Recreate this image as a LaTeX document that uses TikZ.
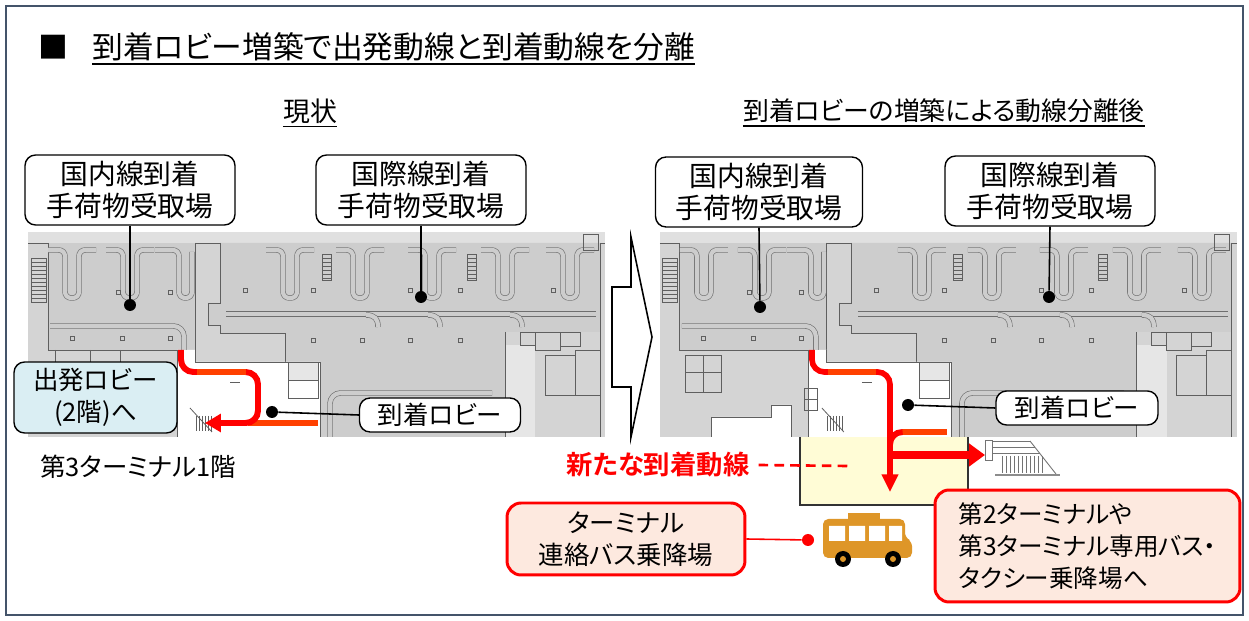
\documentclass[tikz,border=0pt]{standalone}
\usepackage{fontspec}
\setmainfont{Noto Sans CJK JP}[RawFeature=+palt,BoldFont={Noto Sans CJK JP Bold}]
\usetikzlibrary{arrows.meta}
\definecolor{framec}{RGB}{68,84,106}
\definecolor{plbase}{RGB}{212,212,212}
\definecolor{plhall}{RGB}{205,205,205}
\definecolor{plband}{RGB}{224,224,224}
\definecolor{pllight}{RGB}{230,230,230}
\definecolor{plline}{RGB}{95,95,95}
\definecolor{convline}{RGB}{110,110,110}
\definecolor{deplbl}{RGB}{218,238,243}
\definecolor{pinkfill}{RGB}{253,233,223}
\definecolor{orred}{RGB}{255,64,0}
\definecolor{yelfill}{RGB}{255,252,214}
\definecolor{buscol}{RGB}{222,150,40}
\tikzset{
  plwall/.style={draw=plline, line width=0.45pt},
  conv/.style={draw=convline, line width=0.35pt, double=plhall, double distance=2.4pt},
  lbl/.style={draw=black, line width=0.8pt, rounded corners=6pt, fill=white, align=center, inner sep=0pt, font=\fontsize{15.8}{18.6}\selectfont},
  redbox/.style={draw=red, line width=1.7pt, rounded corners=8pt, fill=pinkfill, inner sep=0pt, font=\fontsize{14.5}{18.2}\selectfont},
  leader/.style={draw=black, line width=0.9pt},
  dot/.style={circle, fill=black, inner sep=0pt, minimum size=0.24cm},
  reddot/.style={circle, fill=red, inner sep=0pt, minimum size=0.24cm},
  redline/.style={draw=red, line width=3.4pt},
  escl/.style={draw=black!55, line width=0.5pt},
}
\newcommand\ploop[2]{%
  \draw[conv,rounded corners=3.5pt] (#1-24,250) -- (#1-7,250) -- (#1-7,#2) -- (#1+7,#2) -- (#1+7,250) -- (#1+24,250);}
\newcommand\planBase{%
  \fill[plbase] (28,232) rectangle (605,437);
  \fill[plband] (28,232) rectangle (605,243);
  \draw[plwall] (28,243) -- (605,243);
  % domestic hall
  \fill[plhall] (48,243) rectangle (195,350);
  \draw[plwall] (48,243) -- (48,350) -- (177,350);
  \draw[plwall] (195,243) -- (195,350);
  % international hall
  \fill[plhall] (220,243) -- (600,243) -- (600,332) -- (505,332) -- (505,437) -- (320,437) -- (320,362) -- (285,362) -- (285,333) -- (220,333) -- (220,325) -- (208,325) -- (208,303) -- (220,303) -- cycle;
  \draw[plwall] (220,243) -- (220,303) -- (208,303) -- (208,325) -- (220,325) -- (220,333) -- (285,333) -- (285,362);
  \draw[plwall] (600,243) -- (600,437);
  % lobby
  \fill[white] (177,350) -- (195,350) -- (195,362) -- (320,362) -- (320,437) -- (177,437) -- cycle;
  \draw[plwall] (195,350) -- (195,362) -- (320,362) -- (320,437);
  \draw[plwall] (177,350) -- (177,437);
  \draw[plwall, fill=pllight] (288,362) rectangle (318,380);
  \draw[plwall, fill=white] (288,380) rectangle (318,398);
  \draw[plwall] (230,382) -- (240,382);
  \draw[plwall] (190,408) -- (212,432);
  \foreach \i in {0,...,5} {\draw[plwall] (196+3*\i,416) -- (196+3*\i,431);}
  % right rooms
  \fill[pllight] (505,345) rectangle (535,437);
  \draw[plwall] (505,332) -- (505,437);
  \draw[plwall] (535,332) rectangle (560,350) (560,332) rectangle (580,346) (545,355) rectangle (575,395) (575,350) rectangle (600,395) (520,332) rectangle (535,345);
  % left strip escalator
  \draw[plwall] (31,258) rectangle (46,302);
  \foreach \i in {0,...,9} {\draw[plwall] (31,262+4*\i) -- (46,262+4*\i);}
  % conveyors domestic
  \ploop{72}{298}
  \ploop{130}{298}
  \draw[conv, rounded corners=3.5pt] (155,250) -- (179,250) -- (179,298) -- (192,298) -- (192,252);
  \draw[conv, rounded corners=6pt] (50,326) -- (184,326) -- (184,350);
  % conveyors international
  \foreach \x in {290,360,432,505,570} {\ploop{\x}{298}}
  \draw[conv] (226,314) -- (596,314);
  \foreach \x in {378,440,522} {\draw[conv] (\x-12,315) .. controls (\x-3,315) and (\x,319) .. (\x,327);}
  \foreach \x in {322,467} {\draw[plwall] (\x,254) rectangle (\x+9,280);
    \foreach \j in {0,...,5} {\draw[plwall] (\x,258+4*\j) -- (\x+9,258+4*\j);}}
  \draw[conv, rounded corners=6pt] (330,437) -- (330,393) -- (492,393);
  % columns
  \foreach \p in {(118,292),(170,292),(72,338),(122,338),(170,338),(245,290),(313,290),(410,290),(460,290),(553,290),(313,340),(362,340),(410,340),(460,340)} {\draw[plwall] \p ++(-2,-2) rectangle ++(4,4);}
  \draw[plwall] (583,234) rectangle (598,250);
}
\begin{document}
\begin{tikzpicture}[x=0.02cm,y=-0.02cm]
\useasboundingbox (0,0) rectangle (1249,621);
\fill[white] (0,0) rectangle (1249,621);
\draw[framec, line width=0.9pt] (6,6) rectangle (1243,615);

% titles
\node[inner sep=0pt, font=\fontsize{17}{20}\selectfont] (sq) at (53,47) {■};
\node[anchor=west, inner sep=0pt, font=\fontsize{17.5}{20}\selectfont] (title) at (92,47) {到着ロビー増築で出発動線と到着動線を分離};
\draw[line width=0.9pt] ([yshift=-1.5pt]title.south west) -- ([yshift=-1.5pt]title.south east);
\node[inner sep=0pt, font=\fontsize{15.3}{18}\selectfont] (cur) at (310,111) {現状};
\draw[line width=0.8pt] ([yshift=-1.5pt]cur.south west) -- ([yshift=-1.5pt]cur.south east);
\node[inner sep=0pt, font=\fontsize{14.7}{18}\selectfont] (aft) at (944,111) {到着ロビーの増築による動線分離後};
\draw[line width=0.8pt] ([yshift=-1.5pt]aft.south west) -- ([yshift=-1.5pt]aft.south east);

% plans
\planBase
\draw[plwall] (55,350) -- (55,362) (90,350) -- (90,362) (120,350) -- (120,362);
\begin{scope}[xshift=12.64cm]
  \planBase
  \draw[plwall] (54,355) rectangle (90,392) (54,372) -- (90,372) (72,355) -- (72,392);
  \draw[plwall, fill=white] (80,437) -- (80,417) -- (140,417) -- (140,405) -- (160,405) -- (160,437);
  \draw[plwall] (173,388) rectangle (186,399) (173,399) rectangle (186,410);
\end{scope}

% block arrow
\draw[line width=0.9pt, fill=white] (612,287) -- (631,287) -- (631,237) -- (652,337) -- (631,437) -- (631,387) -- (612,387) -- cycle;

% yellow extension
\fill[yelfill] (800,437) rectangle (968,505);
\draw[line width=0.6pt, black!80] (800,437) -- (800,505) -- (968,505) -- (968,437);

% escalator icon
\draw[escl] (985,440) rectangle (992,460);
\draw[escl] (992,441) -- (1030,441) (992,447) -- (1035,447) (992,453) -- (1040,453);
\draw[escl] (1030,441) -- (1056,474);
\foreach \i in {0,...,10} {\draw[escl] (1002+4*\i,456) -- (1002+4*\i,473);}
\draw[black!45, line width=1.3pt] (995,475) -- (1060,475);

% red routes left
\coordinate (lA) at (181,350);
\coordinate (lB) at (181,372);
\coordinate (lC) at (258,372);
\coordinate (lD) at (258,423);
\coordinate (lE) at (205,423);
\coordinate (lF) at (248,423);
\coordinate (lG) at (318,423);
\draw[orred, line width=3.4pt] (lF) -- (lG);
\draw[redline, rounded corners=7pt, -{Triangle[length=9pt,width=10pt]}] (lA) -- (lB) -- (lC) -- (lD) -- (lE);
\draw[orred, line width=3.4pt] (197,372) -- (246,372);

% red routes right
\coordinate (rA) at (812,350);
\coordinate (rB) at (812,372);
\coordinate (rC) at (890,372);
\coordinate (rD) at (890,492);
\coordinate (rF) at (902,432);
\coordinate (rG) at (947,432);
\coordinate (rH) at (890,450);
\coordinate (rK) at (890,455);
\coordinate (rL) at (985,455);
\draw[orred, line width=3.4pt] (rF) -- (rG);
\draw[redline, rounded corners=7pt] (rH) -- (890,432) -- (rF);
\draw[redline, line width=3.2pt, rounded corners=7pt, -{Triangle[length=10pt,width=9pt]}] (rA) -- (rB) -- (rC) -- (rD);
\draw[orred, line width=3.2pt] (828,372) -- (876,372);
\draw[redline, line width=4pt, -{Triangle[length=9pt,width=12.5pt]}] (rK) -- (rL);

% labels left
\node[lbl, minimum width=4.2cm, minimum height=1.4cm] (bdomL) at (130,190) {国内線到着\\手荷物受取場};
\node[lbl, minimum width=4.2cm, minimum height=1.4cm] (bintL) at (421,190) {国際線到着\\手荷物受取場};
\node[dot] (ddomL) at (130,305) {};
\node[dot] (dintL) at (421,297) {};
\draw[leader] (bdomL.south) -- (ddomL);
\draw[leader] (bintL.south) -- (dintL);
\node[lbl, fill=deplbl, minimum width=3.26cm, minimum height=1.42cm, font=\fontsize{14.5}{18}\selectfont] (bdep) at (95.5,397.5) {出発ロビー\\(2階)へ};
\node[lbl, minimum width=3.22cm, minimum height=0.68cm, font=\fontsize{14.5}{17}\selectfont] (barrL) at (440,415) {到着ロビー};
\node[dot] (darrL) at (272,412) {};
\draw[leader] (darrL) -- (barrL.west);

% labels right
\node[lbl, minimum width=4.14cm, minimum height=1.4cm] (bdomR) at (759,192) {国内線到着\\手荷物受取場};
\node[lbl, minimum width=4.2cm, minimum height=1.4cm] (bintR) at (1050,191) {国際線到着\\手荷物受取場};
\node[dot] (ddomR) at (760,307) {};
\node[dot] (dintR) at (1049,297) {};
\draw[leader] (bdomR.south) -- (ddomR);
\draw[leader] (bintR.south) -- (dintR);
\node[lbl, minimum width=3.24cm, minimum height=0.68cm, font=\fontsize{14.5}{17}\selectfont] (barrR) at (1077,408) {到着ロビー};
\node[dot] (darrR) at (908,405) {};
\draw[leader] (darrR) -- (barrR.west);

% floor label
\node[anchor=west, inner sep=0pt, font=\fontsize{14.5}{17}\selectfont] (floor) at (40,467) {第3ターミナル1階};

% new route label
\node[inner sep=0pt, text=red, font=\bfseries\fontsize{15}{17}\selectfont] (newl) at (658,465) {新たな到着動線};
\coordinate (newend) at (848,466);
\draw[red, line width=1.5pt, dash pattern=on 5.5pt off 3.5pt] ([xshift=5pt]newl.east) -- (newend);

% bus
\fill[buscol] (848,513) rectangle (880,520);
\fill[buscol, rounded corners=3pt] (823,519) -- (905,519) -- (905,538) -- (912,541) -- (912,558) -- (823,558) -- cycle;
\fill[white] (829,526) rectangle (845,541) (849,526) rectangle (865,541) (869,526) rectangle (885,541) (889,526) rectangle (902,541);
\fill[black] (843,559) circle[radius=8] (893,559) circle[radius=8];
\fill[buscol] (843,559) circle[radius=3] (893,559) circle[radius=3];

% red boxes
\node[redbox, align=center, minimum width=4.76cm, minimum height=1.44cm] (bbus) at (626,539) {ターミナル\\連絡バス乗降場};
\node[reddot] (dbus) at (808,540) {};
\draw[red, line width=0.9pt] (bbus.east) -- (dbus);
\node[redbox, align=left, minimum width=6.1cm, minimum height=2.24cm, font=\fontsize{14}{18.2}\selectfont] (bt2) at (1087.5,546) {第2ターミナルや\\第3ターミナル専用バス・\\タクシー乗降場へ};
\end{tikzpicture}
\end{document}
